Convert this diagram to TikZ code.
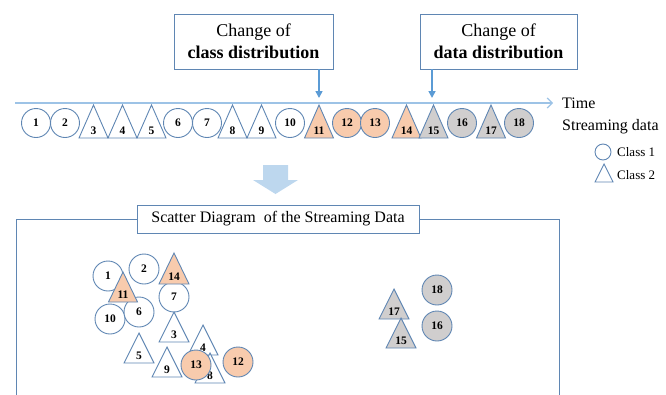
\documentclass[tikz,border=0pt]{standalone}
\usepackage{fontspec}
\setmainfont{Liberation Serif}
\usetikzlibrary{arrows.meta}

\definecolor{edgeblue}{HTML}{5F86B3}
\definecolor{lineblue}{HTML}{9DC3E6}
\definecolor{markblue}{HTML}{5B9BD5}
\definecolor{bigarrow}{HTML}{BDD7EE}
\definecolor{orangefill}{HTML}{F8CBAD}
\definecolor{grayfill}{HTML}{D0CECE}

% triangle sample: #1 name, #2/#3 apex, #4 half width, #5 height, #6 fill, #7 label
\newcommand\trishape[7]{%
  \draw[shapeline, fill=#6] (#2,#3) -- ++(-#4,#5) -- ++(2*#4,0) -- cycle;
  \node[numlabel] (#1) at (#2,#3+#5-7) {#7};
}

\begin{document}
\begin{tikzpicture}[x=1pt,y=-1pt,
  shapeline/.style={draw=edgeblue, line width=0.9pt},
  numlabel/.style={inner sep=0pt, font=\bfseries\fontsize{11.5}{12}\selectfont},
  rowc/.style={circle, shapeline, minimum size=29pt, inner sep=0pt,
               font=\bfseries\fontsize{11.5}{12}\selectfont},
  scc/.style={rowc, minimum size=30pt},
  cw/.style={fill=white}, co/.style={fill=orangefill}, cg/.style={fill=grayfill},
  infobox/.style={draw=edgeblue, line width=0.8pt, fill=white, align=center,
                  inner sep=0pt, font=\fontsize{18}{22}\selectfont},
  chg/.style={draw=markblue, line width=1.6pt, -{Triangle[length=7pt,width=7pt]}},
  timeline/.style={draw=lineblue, line width=1.2pt, -{Straight Barb[length=5pt,width=10pt]}},
  frame/.style={draw=edgeblue, line width=0.8pt},
]
\useasboundingbox (0,0) rectangle (666,394);

% change boxes
\node[infobox, minimum width=159pt, minimum height=55pt] (cbox) at (253.5,41.5)
  {Change of\\\textbf{class distribution}};
\node[infobox, minimum width=157pt, minimum height=55pt] (dbox) at (498.5,41.5)
  {Change of\\\textbf{data distribution}};

% time axis
\coordinate (tl0) at (15,103);
\coordinate (tl1) at (553,103);
\draw[timeline] (tl0) -- (tl1);
\coordinate (pc) at (319,98);
\coordinate (pd) at (432,98);
\draw[chg] (cbox.south -| pc) -- (pc);
\draw[chg] (dbox.south -| pd) -- (pd);

\node[anchor=west, inner sep=0pt, font=\fontsize{16}{18}\selectfont] (time) at (562,103) {Time};
\node[anchor=west, inner sep=0pt, font=\fontsize{16}{18}\selectfont] (stream) at (562,127) {Streaming data};

% legend
\node[circle, shapeline, minimum size=16pt, inner sep=0pt] (lc1) at (603,152) {};
\node[anchor=west, inner sep=0pt, font=\fontsize{13}{15}\selectfont] (lt1) at (617,152) {Class 1};
\draw[shapeline] (604,164) -- ++(-9,18) -- ++(18,0) -- cycle;
\node[anchor=west, inner sep=0pt, font=\fontsize{13}{15}\selectfont] (lt2) at (617,175) {Class 2};

% streaming samples
\node[rowc, cw] (r1) at (36,123) {1};
\node[rowc, cw] (r2) at (65,123) {2};
\trishape{r3}{93.5}{105}{14.5}{33}{white}{3}
\trishape{r4}{122.5}{105}{14.5}{33}{white}{4}
\trishape{r5}{151.5}{105}{14.5}{33}{white}{5}
\node[rowc, cw] (r6) at (178,123) {6};
\node[rowc, cw] (r7) at (207,123) {7};
\trishape{r8}{232.5}{105}{14.5}{33}{white}{8}
\trishape{r9}{261.5}{105}{14.5}{33}{white}{9}
\node[rowc, cw] (r10) at (290,123) {10};
\trishape{r11}{319}{105}{14.5}{33}{orangefill}{11}
\node[rowc, co] (r12) at (347,123) {12};
\node[rowc, co] (r13) at (375,123) {13};
\trishape{r14}{406.5}{105}{14.5}{33}{orangefill}{14}
\trishape{r15}{433.5}{105}{14.5}{33}{grayfill}{15}
\node[rowc, cg] (r16) at (462,123) {16};
\trishape{r17}{491}{105}{14.5}{33}{grayfill}{17}
\node[rowc, cg] (r18) at (519,123) {18};

% block arrow
\fill[bigarrow] (263,165) -- (288,165) -- (288,180) -- (298,180) -- (275.5,194)
  -- (253,180) -- (263,180) -- cycle;

% scatter frame
\draw[frame] (16,400) -- (16,219) -- (559,219) -- (559,400);
\node[draw=edgeblue, line width=0.8pt, fill=white, inner sep=0pt,
      minimum width=282pt, minimum height=28pt, font=\fontsize{16}{18}\selectfont]
  (title) at (278,219) {Scatter Diagram\ \ of the Streaming Data};

% scatter samples
\node[scc, cw] (s1) at (108,276) {1};
\node[scc, cw] (s2) at (144,269) {2};
\node[scc, cw] (s10) at (110,319) {10};
\node[scc, cw] (s6) at (139,312) {6};
\trishape{s11}{123}{272}{14.5}{30}{orangefill}{11}
\node[scc, cw] (s7) at (174,297) {7};
\trishape{s14}{174}{253}{15}{31}{orangefill}{14}
\trishape{s3}{174}{312}{15}{30}{white}{3}
\trishape{s5}{139}{333}{15}{30}{white}{5}
\trishape{s4}{203}{325}{15}{30}{white}{4}
\trishape{s9}{167}{347}{15}{30}{white}{9}
\trishape{s8}{210}{353}{15}{30}{white}{8}
\node[scc, co] (s13) at (196,365) {13};
\node[scc, co] (s12) at (238,362) {12};
\trishape{s17}{394}{289}{15}{30}{grayfill}{17}
\trishape{s15}{401}{318}{15}{30}{grayfill}{15}
\node[scc, cg] (s18) at (437,290) {18};
\node[scc, cg] (s16) at (437,326) {16};
\end{tikzpicture}
\end{document}
